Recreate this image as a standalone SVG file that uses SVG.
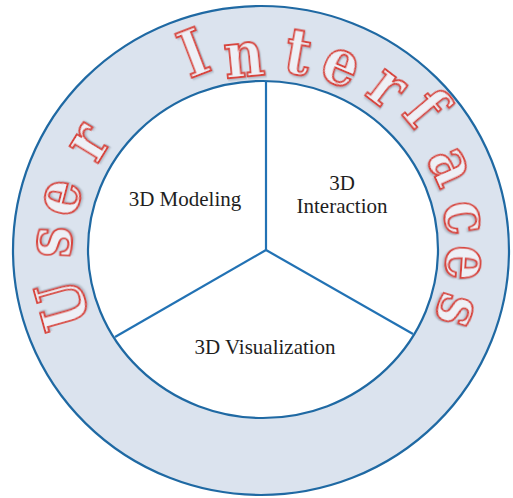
<svg xmlns="http://www.w3.org/2000/svg" width="513" height="498" viewBox="0 0 513 498">
  <style>
    .ring { fill: #dbe3ee; stroke: #1f69a3; stroke-width: 2.2; }
    .core { fill: #ffffff; stroke: #1f69a3; stroke-width: 2.2; }
    .spoke { stroke: #2272b4; stroke-width: 2.2; fill: none; }
    .label { font-family: "Liberation Serif", "Times New Roman", serif; font-size: 21px; fill: #1e1e1e; text-anchor: middle; }
    .arc { font-family: "DejaVu Serif", "Liberation Serif", serif; font-weight: bold; font-size: 58px; fill: #eef0f6; stroke: #d8453c; stroke-width: 1.8; text-anchor: middle; filter: url(#shadow); }
  </style>
  <defs>
    <filter id="shadow" x="-30%" y="-30%" width="160%" height="160%">
      <feDropShadow dx="1.2" dy="1.2" stdDeviation="0.8" flood-color="#6b7380" flood-opacity="0.45"/>
    </filter>
  </defs>
  <g id="outer-ring">
    <ellipse class="ring" cx="261" cy="250.5" rx="248" ry="244.5"/>
  </g>
  <g id="inner-circle">
    <ellipse class="core" cx="263" cy="249.5" rx="175" ry="168.5"/>
  </g>
  <g id="connectors">
    <line class="spoke" x1="266" y1="250" x2="266" y2="81"/>
    <line class="spoke" x1="266" y1="250" x2="115" y2="337"/>
    <line class="spoke" x1="266" y1="250" x2="413" y2="334"/>
  </g>
  <g id="node-modeling">
    <text class="label" x="185" y="206">3D Modeling</text>
  </g>
  <g id="node-interaction">
    <text class="label" x="342" y="190">3D</text>
    <text class="label" x="342" y="213">Interaction</text>
  </g>
  <g id="node-visualization">
    <text class="label" x="265" y="354">3D Visualization</text>
  </g>
  <g id="title-user-interfaces">
    <text class="arc" transform="translate(84,299.2) rotate(-105.6) scale(0.95,1.1)">U</text>
    <text class="arc" transform="translate(71,242.6) rotate(-87.8) scale(0.95,1.1)">s</text>
    <text class="arc" transform="translate(78.5,202) rotate(-75.5) scale(0.95,1.1)">e</text>
    <text class="arc" transform="translate(104.5,152.4) rotate(-58.5) scale(0.95,1.1)">r</text>
    <text class="arc" transform="translate(201.6,74) rotate(-21) scale(0.95,1.1)">I</text>
    <text class="arc" transform="translate(245.9,76.5) rotate(-5.5) scale(0.95,1.1)">n</text>
    <text class="arc" transform="translate(294.5,73.5) rotate(10) scale(0.95,1.1)">t</text>
    <text class="arc" transform="translate(333.6,83) rotate(23) scale(0.95,1.1)">e</text>
    <text class="arc" transform="translate(375.2,103) rotate(37.3) scale(0.95,1.1)">r</text>
    <text class="arc" transform="translate(409,122) rotate(50) scale(0.95,1.1)">f</text>
    <text class="arc" transform="translate(433.5,174) rotate(65.9) scale(0.95,1.1)">a</text>
    <text class="arc" transform="translate(445.5,220.5) rotate(80.9) scale(0.95,1.1)">c</text>
    <text class="arc" transform="translate(446.5,261.9) rotate(93.7) scale(0.95,1.1)">e</text>
    <text class="arc" transform="translate(439,305) rotate(107.3) scale(0.95,1.1)">s</text>
  </g>
</svg>
